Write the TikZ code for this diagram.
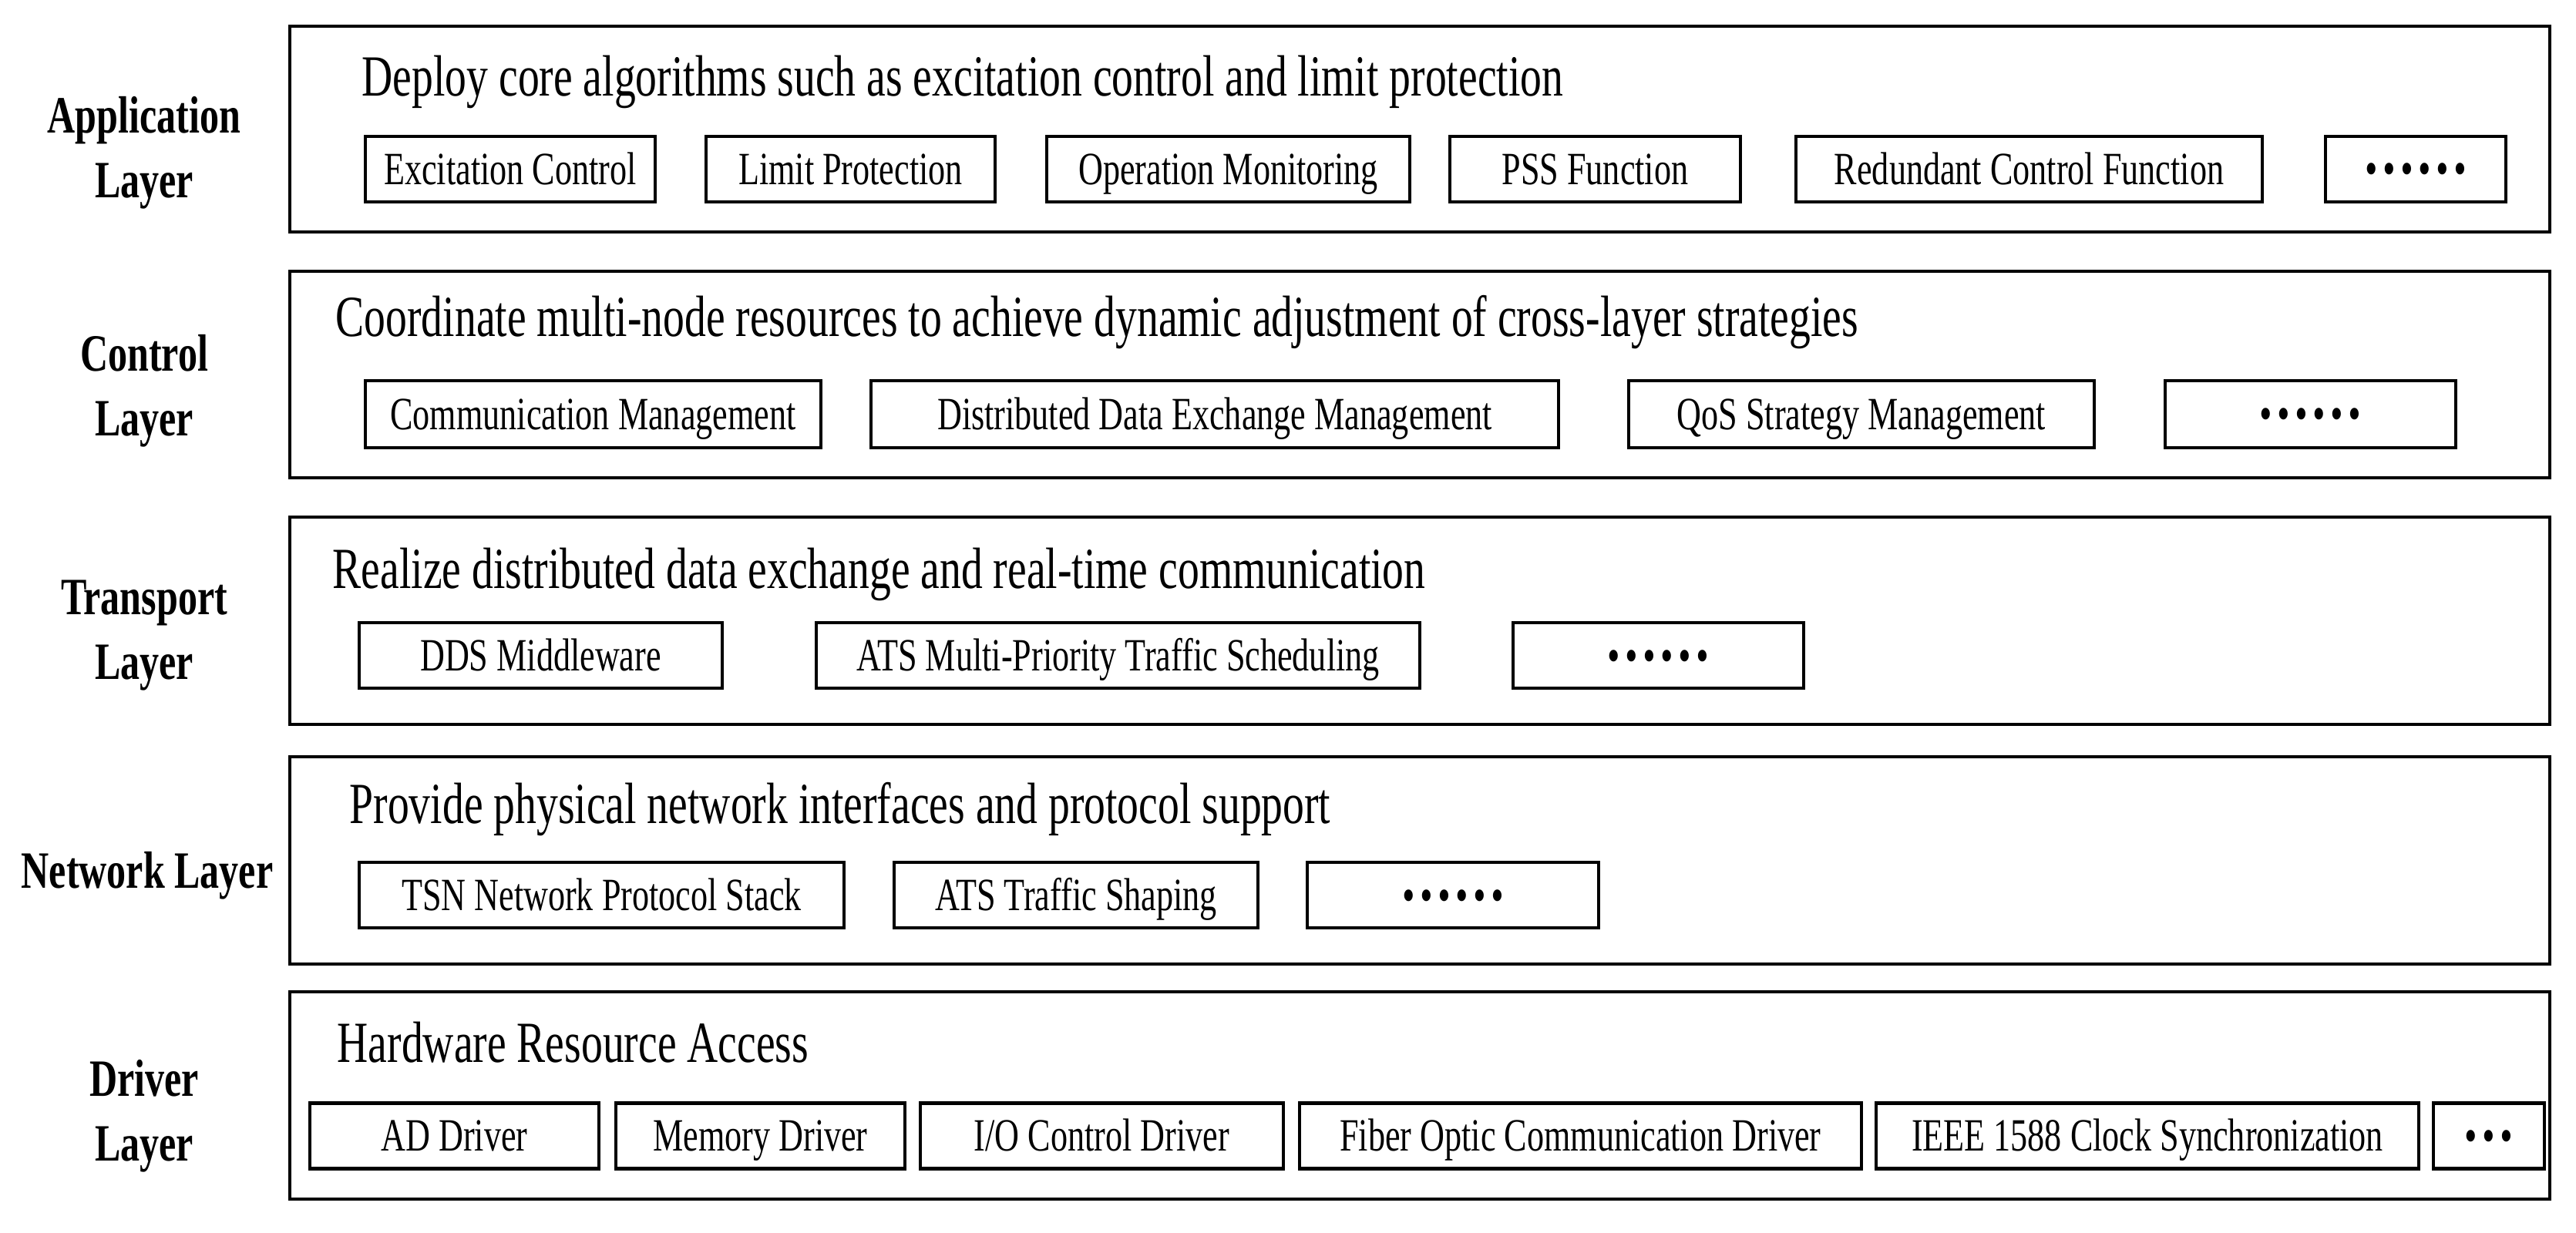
\documentclass[tikz,border=0pt]{standalone}
\usepackage{fontspec}
\setmainfont{Liberation Serif}[FakeStretch=0.736]

\begin{document}
\begin{tikzpicture}[
	layer/.style={line width=1.3pt},
	item/.style={draw, line width=1.3pt, minimum height=0.85cm, inner sep=0pt, font=\fontsize{17.07}{20}\selectfont, text height=11.2pt, text depth=0pt},
	more/.style={item, font=\fontsize{26.5}{30}\selectfont\bfseries, text height=3.7pt},
	title/.style={anchor=base west, inner sep=0pt, font=\fontsize{21.5}{26}\selectfont},
	side/.style={anchor=base, inner sep=0pt, align=center, font=\fontsize{19.35}{23.9}\selectfont\bfseries}]
	\useasboundingbox (0,0) rectangle (33.42,-16);
	% Application layer
	\draw[layer] (3.76,-0.34) rectangle (33.08,-3.01);
	\node[side] (appname) at (1.87,-2.57) {Application\\Layer};
	\node[title] (apptitle) at (4.69,-1.25) {Deploy core algorithms such as excitation control and limit protection};
	\node[item, minimum width=3.76cm] (exc) at (6.62,-2.195) {Excitation Control};
	\node[item, minimum width=3.75cm] (lim) at (11.035,-2.195) {Limit Protection};
	\node[item, minimum width=4.71cm] (mon) at (15.935,-2.195) {Operation Monitoring};
	\node[item, minimum width=3.77cm] (pss) at (20.695,-2.195) {PSS Function};
	\node[item, minimum width=6.05cm] (red) at (26.325,-2.195) {Redundant Control Function};
	\node[more, minimum width=2.34cm] (appmore) at (31.34,-2.195) {……};
	% Control layer
	\draw[layer] (3.76,-3.52) rectangle (33.08,-6.20);
	\node[side] (ctrlname) at (1.87,-5.66) {Control\\Layer};
	\node[title] (ctrltitle) at (4.35,-4.37) {Coordinate multi-node resources to achieve dynamic adjustment of cross-layer strategies};
	\node[item, minimum width=5.91cm, minimum height=0.87cm] (com) at (7.695,-5.375) {Communication Management};
	\node[item, minimum width=8.92cm, minimum height=0.87cm] (dde) at (15.76,-5.375) {Distributed Data Exchange Management};
	\node[item, minimum width=6.04cm, minimum height=0.87cm] (qos) at (24.15,-5.375) {QoS Strategy Management};
	\node[more, minimum width=3.77cm, minimum height=0.87cm] (ctrlmore) at (29.975,-5.375) {……};
	% Transport layer
	\draw[layer] (3.76,-6.71) rectangle (33.08,-9.40);
	\node[side] (tranname) at (1.87,-8.82) {Transport\\Layer};
	\node[title] (trantitle) at (4.31,-7.64) {Realize distributed data exchange and real-time communication};
	\node[item, minimum width=4.71cm] (dds) at (7.015,-8.505) {DDS Middleware};
	\node[item, minimum width=7.83cm] (ats) at (14.505,-8.505) {ATS Multi-Priority Traffic Scheduling};
	\node[more, minimum width=3.77cm] (tranmore) at (21.515,-8.505) {……};
	% Network layer
	\draw[layer] (3.76,-9.82) rectangle (33.08,-12.51);
	\node[side] (netname) at (1.91,-11.52) {Network Layer};
	\node[title] (nettitle) at (4.53,-10.68) {Provide physical network interfaces and protocol support};
	\node[item, minimum width=6.29cm] (tsn) at (7.805,-11.615) {TSN Network Protocol Stack};
	\node[item, minimum width=4.72cm] (shp) at (13.96,-11.615) {ATS Traffic Shaping};
	\node[more, minimum width=3.78cm] (netmore) at (18.85,-11.615) {……};
	% Driver layer
	\draw[layer] (3.76,-12.87) rectangle (33.08,-15.56);
	\node[side] (drvname) at (1.87,-15.06) {Driver\\Layer};
	\node[title] (drvtitle) at (4.37,-13.78) {Hardware Resource Access};
	\node[item, minimum width=3.75cm] (ad) at (5.895,-14.74) {AD Driver};
	\node[item, minimum width=3.75cm] (mem) at (9.865,-14.74) {Memory Driver};
	\node[item, minimum width=4.71cm] (io) at (14.295,-14.74) {I/O Control Driver};
	\node[item, minimum width=7.29cm] (fib) at (20.505,-14.74) {Fiber Optic Communication Driver};
	\node[item, minimum width=7.04cm] (ieee) at (27.86,-14.74) {IEEE 1588 Clock Synchronization};
	\node[more, minimum width=1.44cm] (drvmore) at (32.29,-14.74) {…};
\end{tikzpicture}
\end{document}
